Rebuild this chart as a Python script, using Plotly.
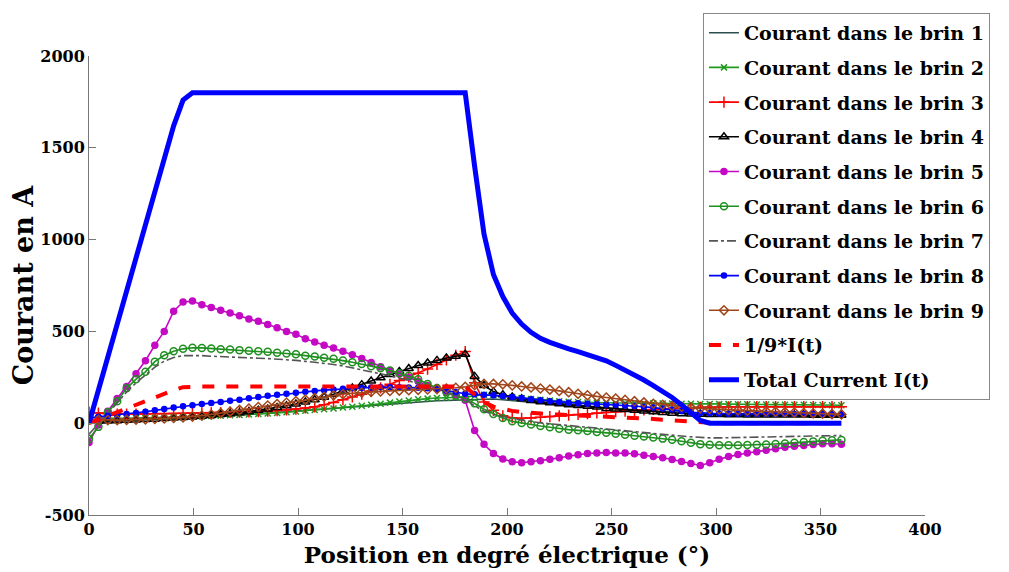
import plotly.graph_objects as go

# positions in electrical degrees, one sample every 4.5 deg
position = [i * 4.5 for i in range(81)]

total_current = [0, 180, 360, 540, 720, 905, 1085, 1270, 1460, 1620, 1760, 1800] + [1800] * 29 + [
    1400, 1030, 810, 690, 600, 540, 495, 462, 440, 420, 405, 390, 375, 358, 340, 315, 290, 262, 235, 205,
    175, 140, 100, 58, 15] + [0] * 15

ninth_current = [0, 20, 40, 60, 80, 100, 120, 141, 162, 180, 196, 200] + [200] * 29 + [
    156, 114, 90, 77, 67, 60, 55, 51, 49, 47, 45, 43, 42, 40, 38, 35, 32, 29, 26, 23,
    19, 16, 11, 6, 2] + [0] * 15

brin1 = [5, 7, 9, 11, 13, 15, 17, 19, 21, 23, 25,
         28, 31, 34, 37, 40, 43, 46, 50, 54, 58,
         62, 66, 70, 74, 78, 82, 86, 90, 94, 98,
         102, 106, 110, 113, 116, 119, 122, 124, 126, 128,
         132, 134, 132, 128, 124, 120, 115, 110, 105, 100,
         96, 92, 88, 85, 82, 79, 76, 73, 70, 67,
         64, 61, 58, 55, 52, 50, 48, 47, 46, 45,
         44, 43, 42, 42, 41, 41, 40, 40, 40, 40]

brin2 = [30, 28, 27, 27, 27, 28, 29, 30, 31, 32, 33,
         35, 37, 39, 41, 43, 45, 47, 50, 53, 56,
         60, 64, 68, 72, 76, 80, 85, 90, 95, 100,
         106, 112, 118, 124, 130, 134, 137, 139, 141, 142,
         150, 155, 152, 147, 142, 137, 132, 127, 123, 120,
         117, 115, 113, 112, 111, 110, 110, 109, 108, 108,
         107, 107, 106, 106, 105, 105, 104, 104, 103, 103,
         102, 102, 101, 101, 100, 100, 99, 99, 98, 98]

brin3 = [60, 55, 52, 50, 50, 50, 50, 51, 52, 53, 54,
         55, 56, 57, 58, 59, 60, 61, 63, 66, 69,
         72, 77, 83, 89, 100, 113, 128, 143, 158, 175,
         192, 212, 232, 252, 272, 295, 320, 345, 370, 390,
         220, 115, 70, 40, 30, 27, 28, 32, 36, 40,
         44, 48, 52, 56, 60, 63, 66, 69, 72, 75,
         78, 80, 82, 84, 86, 87, 88, 89, 89, 90,
         90, 90, 90, 90, 90, 90, 90, 90, 90, 90]

brin4 = [10, 10, 12, 14, 16, 18, 20, 22, 25, 28, 31,
         34, 38, 42, 47, 52, 57, 63, 70, 78, 86,
         95, 105, 116, 128, 142, 158, 175, 192, 210, 230,
         248, 265, 282, 298, 314, 328, 342, 355, 365, 375,
         255, 205, 172, 155, 143, 133, 124, 117, 111, 106,
         101, 96, 92, 88, 80, 77, 74, 70, 66, 62,
         58, 54, 52, 50, 49, 48, 47, 46, 46, 45,
         45, 45, 44, 44, 44, 44, 43, 43, 43, 43]

brin5 = [-105, -10, 65, 135, 200, 270, 340, 425, 500, 610, 660,
         665, 645, 630, 615, 600, 585, 568, 555, 538, 520,
         500, 485, 460, 442, 425, 410, 392, 373, 352, 330,
         308, 287, 268, 250, 228, 205, 188, 170, 155, 125,
         -40, -115, -165, -195, -210, -215, -210, -205, -197, -188,
         -178, -172, -165, -162, -160, -162, -162, -166, -175, -181,
         -188, -198, -208, -220, -230, -215, -196, -182, -171, -162,
         -155, -147, -139, -131, -125, -121, -116, -112, -112, -115]

brin6 = [-85, -20, 60, 120, 190, 240, 280, 335, 370, 392, 405,
         411, 410, 407, 403, 402, 398, 394, 392, 389, 384,
         380, 375, 368, 363, 357, 351, 341, 332, 322, 310,
         300, 287, 272, 258, 240, 214, 192, 170, 150, 135,
         108, 76, 50, 28, 10, 1, -7, -15, -22, -30,
         -35, -39, -43, -48, -52, -57, -63, -68, -73, -78,
         -84, -90, -98, -107, -114, -118, -120, -120, -120, -119,
         -118, -116, -113, -110, -106, -102, -99, -96, -93, -91]

brin7 = [-60, 0, 55, 110, 170, 220, 262, 305, 338, 358, 368,
         370, 368, 365, 362, 360, 358, 356, 354, 352, 350,
         347, 342, 337, 332, 326, 320, 312, 302, 292, 282,
         270, 258, 246, 232, 218, 200, 185, 168, 150, 130,
         95, 65, 48, 35, 25, 17, 8, 2, -3, -8,
         -13, -18, -23, -28, -33, -38, -42, -47, -52, -56,
         -60, -65, -70, -74, -78, -80, -80, -79, -78, -77,
         -76, -75, -74, -73, -72, -71, -70, -69, -68, -67]

brin8 = [30, 35, 40, 45, 50, 55, 62, 70, 78, 85, 92,
         98, 104, 110, 116, 122, 128, 136, 143, 149, 155,
         160, 166, 171, 176, 180, 184, 187, 190, 192, 195,
         196, 196, 196, 195, 193, 190, 185, 178, 170, 160,
         157, 155, 152, 148, 143, 137, 131, 125, 120, 116,
         112, 108, 106, 104, 102, 100, 97, 94, 90, 85,
         80, 74, 67, 60, 56, 54, 53, 52, 52, 51,
         51, 51, 50, 50, 50, 50, 50, 50, 50, 50]

brin9 = [20, 18, 17, 17, 18, 19, 21, 23, 26, 29, 32,
         36, 41, 47, 55, 63, 72, 80, 88, 96, 104,
         112, 120, 128, 136, 144, 152, 158, 163, 167, 170,
         173, 176, 178, 180, 182, 184, 186, 189, 193, 198,
         207, 214, 214, 212, 206, 200, 195, 189, 183, 176,
         169, 160, 152, 146, 140, 134, 127, 120, 113, 106,
         100, 94, 89, 85, 81, 78, 75, 72, 70, 68,
         66, 64, 62, 60, 58, 56, 54, 52, 50, 48]

x_ticks = [0, 50, 100, 150, 200, 250, 300, 350, 400]
y_ticks = [-500, 0, 500, 1000, 1500, 2000]
y_tick_labels = ["-500", "0", "500", "1000", "1500", "2000"]

font_family = "DejaVu Serif"

fig = go.Figure()

strands = [
    ("Courant dans le brin 1", brin1, "#2f4f4f", "solid", None, 6),
    ("Courant dans le brin 2", brin2, "#1f9a1f", "solid", "x-thin", 6),
    ("Courant dans le brin 3", brin3, "#ff0000", "solid", "cross-thin", 8),
    ("Courant dans le brin 4", brin4, "#000000", "solid", "triangle-up-open", 8),
    ("Courant dans le brin 5", brin5, "#c40ac4", "solid", "circle", 6),
    ("Courant dans le brin 6", brin6, "#1f8f1f", "solid", "circle-open", 7),
    ("Courant dans le brin 7", brin7, "#555555", "dashdot", None, 6),
    ("Courant dans le brin 8", brin8, "#0000ff", "solid", "circle", 5),
    ("Courant dans le brin 9", brin9, "#a0461b", "solid", "diamond-open", 7),
]

for k, (name, vals, color, dash, symbol, msize) in enumerate(strands):
    fig.add_trace(go.Scatter(
        x=position, y=vals, name=name, legendgroup=str(k),
        mode="lines+markers" if symbol else "lines",
        line=dict(color=color, width=1.6, dash=dash),
        marker=dict(symbol=symbol or "circle", size=msize, color=color,
                    line=dict(color=color, width=1.5)),
    ))

fig.add_trace(go.Scatter(
    x=position, y=ninth_current, name="1/9*I(t)", legendgroup="9",
    mode="lines", line=dict(color="#ff0000", width=4, dash="dash"),
))
fig.add_trace(go.Scatter(
    x=position, y=total_current, name="Total Current I(t)", legendgroup="10",
    mode="lines", line=dict(color="#0000ff", width=5),
))

axis_common = dict(
    showgrid=False, zeroline=False, showline=True, linecolor="#777777", linewidth=1,
    ticks="inside", ticklen=7, tickcolor="#777777", automargin=False,
    tickfont=dict(family=font_family, size=16, color="black", weight="bold"),
)

# the page body adds an 8 px offset, so the figure is a bit smaller than the window
fig.update_layout(
    width=1001, height=564,
    margin=dict(l=81, r=84, t=48, b=57, autoexpand=False),
    plot_bgcolor="white", paper_bgcolor="white",
    font=dict(family=font_family, color="black", weight="bold"),
    xaxis=dict(range=[0, 400], tickvals=x_ticks,
               title=dict(text="Position en degré électrique (°)", standoff=8,
                          font=dict(family=font_family, size=23, weight="bold")),
               **axis_common),
    yaxis=dict(range=[-500, 2000], tickvals=y_ticks, ticktext=y_tick_labels,
               title=dict(text="Courant en A", standoff=10,
                          font=dict(family=font_family, size=27, weight="bold")),
               **axis_common),
    legend=dict(x=0.7344, y=1.094, xanchor="left", yanchor="top",
                traceorder="grouped", tracegroupgap=7, itemwidth=30,
                maxheight=460,
                bgcolor="white", bordercolor="#888888", borderwidth=1,
                font=dict(family=font_family, size=19, color="black", weight="bold")),
    showlegend=True,
)

fig.write_html("out.html")
